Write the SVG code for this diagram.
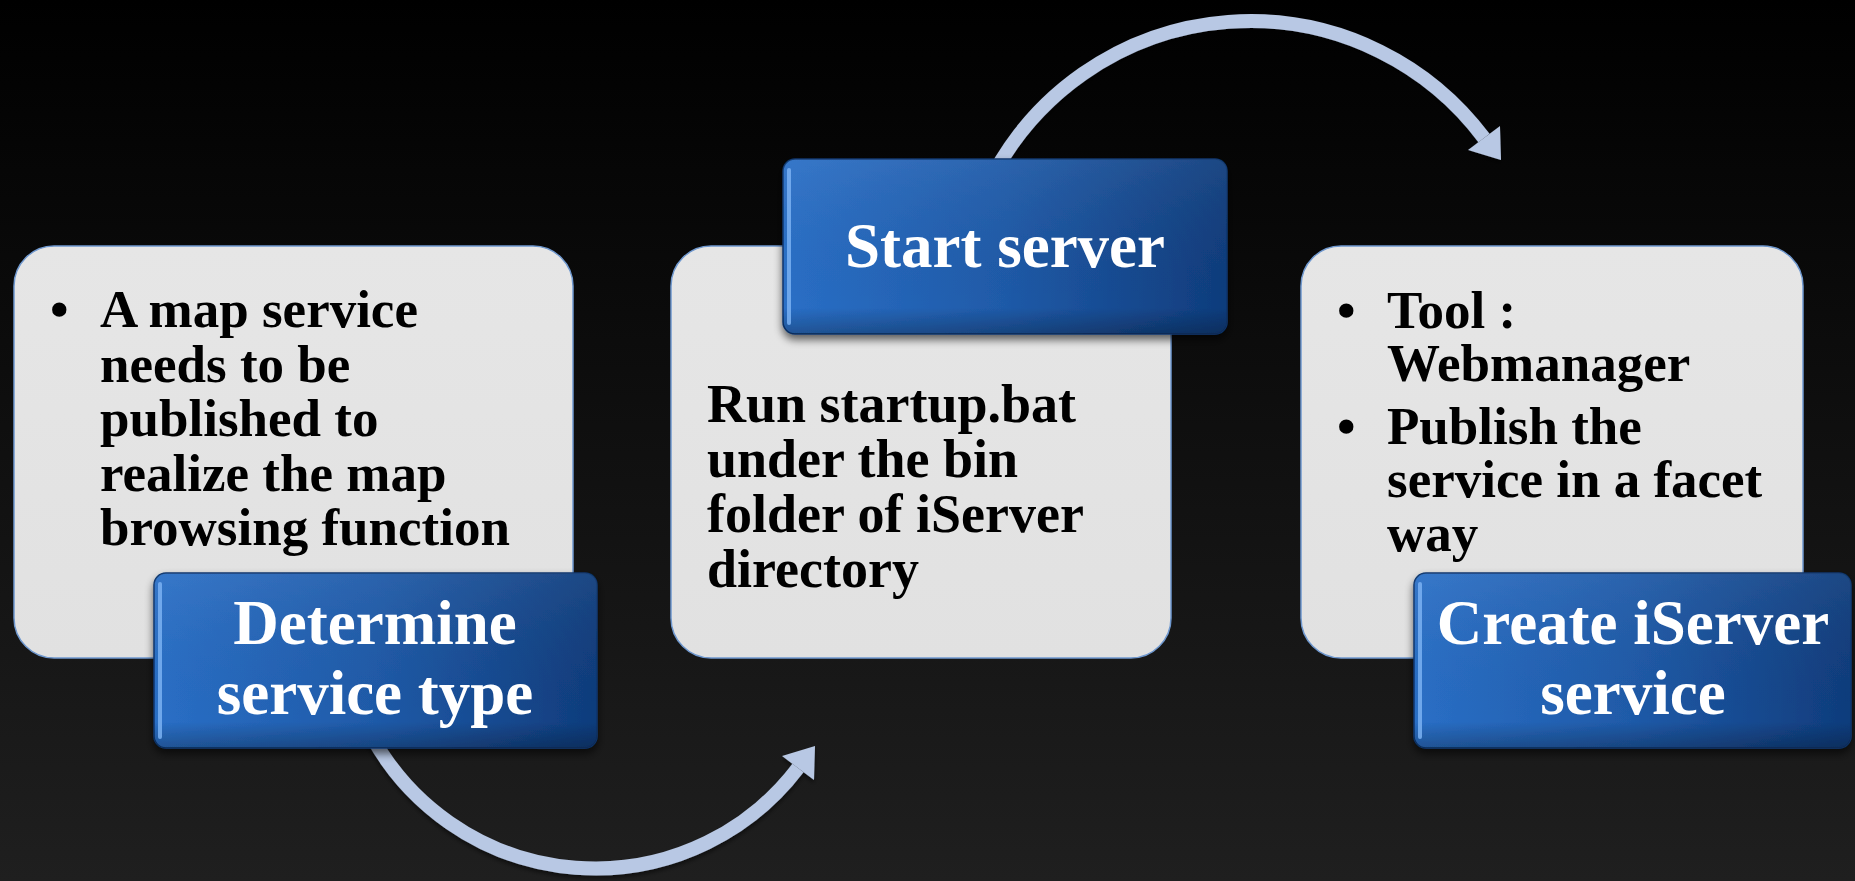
<svg xmlns="http://www.w3.org/2000/svg" width="1855" height="881" viewBox="0 0 1855 881">
<defs>
<linearGradient id="bg" x1="0" y1="0" x2="0" y2="1">
<stop offset="0" stop-color="#000000"/>
<stop offset="1" stop-color="#1f1f1f"/>
</linearGradient>
<linearGradient id="blue" x1="0" y1="0" x2="1" y2="0">
<stop offset="0" stop-color="#2a6fc6"/>
<stop offset="0.5" stop-color="#1f5aa8"/>
<stop offset="1" stop-color="#0f3c7c"/>
</linearGradient>
<linearGradient id="blueShade" x1="0" y1="0" x2="0" y2="1">
<stop offset="0" stop-color="#ffffff" stop-opacity="0.06"/>
<stop offset="0.85" stop-color="#000000" stop-opacity="0"/>
<stop offset="1" stop-color="#000000" stop-opacity="0.25"/>
</linearGradient>
<linearGradient id="gray" x1="0" y1="0" x2="0" y2="1">
<stop offset="0" stop-color="#e6e6e6"/>
<stop offset="1" stop-color="#e1e1e1"/>
</linearGradient>
<filter id="shadow" x="-10%" y="-10%" width="120%" height="130%">
<feGaussianBlur in="SourceAlpha" stdDeviation="4"/>
<feOffset dx="0" dy="5" result="b"/>
<feComponentTransfer><feFuncA type="linear" slope="0.6"/></feComponentTransfer>
<feMerge><feMergeNode/><feMergeNode in="SourceGraphic"/></feMerge>
</filter>
<filter id="ashadow" x="-10%" y="-10%" width="120%" height="130%">
<feGaussianBlur in="SourceAlpha" stdDeviation="2"/>
<feOffset dx="0" dy="3" result="b"/>
<feComponentTransfer><feFuncA type="linear" slope="0.5"/></feComponentTransfer>
<feMerge><feMergeNode/><feMergeNode in="SourceGraphic"/></feMerge>
</filter>
</defs>
<style>
.box{fill:url(#gray);stroke:#6f98cf;stroke-width:1.5}
.lab{fill:url(#blue);stroke:#0d356c;stroke-width:1.5}
.labsh{fill:url(#blueShade)}
.hl{fill:#7ab2f2;opacity:0.85}
.body{font-family:"Liberation Serif","Times New Roman",serif;font-weight:bold;font-size:53px;fill:#000}
.b2{font-size:54px}
.title{font-family:"Liberation Serif","Times New Roman",serif;font-weight:bold;font-size:63px;fill:#fff;text-anchor:middle}
.arc{fill:none;stroke:#b8c8e4;stroke-width:14}
.head{fill:#b8c8e4}
</style>
<rect x="0" y="0" width="1855" height="881" fill="url(#bg)"/>

<g id="connectors" filter="url(#ashadow)">
<path class="arc" d="M371,735 A255,255 0 0 0 798,768"/>
<polygon class="head" points="815,746 814,780 782,756"/>
<path class="arc" d="M993,175 A292,292 0 0 1 1484,138"/>
<polygon class="head" points="1501,160 1500,126 1468,150"/>
</g>

<g id="box1">
<rect class="box" x="14" y="246" width="559" height="412" rx="40"/>
<text class="body" x="50" y="327">•</text>
<text class="body" x="100" y="327">A map service</text>
<text class="body" x="100" y="382">needs to be</text>
<text class="body" x="100" y="436">published to</text>
<text class="body" x="100" y="491">realize the map</text>
<text class="body" x="100" y="545">browsing function</text>
</g>

<g id="label1" filter="url(#shadow)">
<rect class="lab" x="154" y="573" width="443" height="175" rx="12"/>
<rect class="labsh" x="154" y="573" width="443" height="175" rx="12"/>
<rect class="hl" x="158" y="582" width="4" height="157" rx="2"/>
<text class="title" x="375" y="644">Determine</text>
<text class="title" x="375" y="714">service type</text>
</g>

<g id="box2">
<rect class="box" x="671" y="246" width="500" height="412" rx="40"/>
<text class="body b2" x="707" y="422">Run startup.bat</text>
<text class="body b2" x="707" y="477">under the bin</text>
<text class="body b2" x="707" y="532">folder of iServer</text>
<text class="body b2" x="707" y="587">directory</text>
</g>

<g id="label2" filter="url(#shadow)">
<rect class="lab" x="783" y="159" width="444" height="175" rx="12"/>
<rect class="labsh" x="783" y="159" width="444" height="175" rx="12"/>
<rect class="hl" x="787" y="168" width="4" height="157" rx="2"/>
<text class="title" x="1005" y="267">Start server</text>
</g>

<g id="box3">
<rect class="box" x="1301" y="246" width="502" height="412" rx="40"/>
<text class="body" x="1337" y="328">•</text>
<text class="body" x="1387" y="328">Tool :</text>
<text class="body" x="1387" y="381">Webmanager</text>
<text class="body" x="1337" y="444">•</text>
<text class="body" x="1387" y="444">Publish the</text>
<text class="body" x="1387" y="497">service in a facet</text>
<text class="body" x="1387" y="551">way</text>
</g>

<g id="label3" filter="url(#shadow)">
<rect class="lab" x="1414" y="573" width="437" height="175" rx="12"/>
<rect class="labsh" x="1414" y="573" width="437" height="175" rx="12"/>
<rect class="hl" x="1418" y="582" width="4" height="157" rx="2"/>
<text class="title" x="1633" y="644">Create iServer</text>
<text class="title" x="1633" y="714">service</text>
</g>
</svg>
